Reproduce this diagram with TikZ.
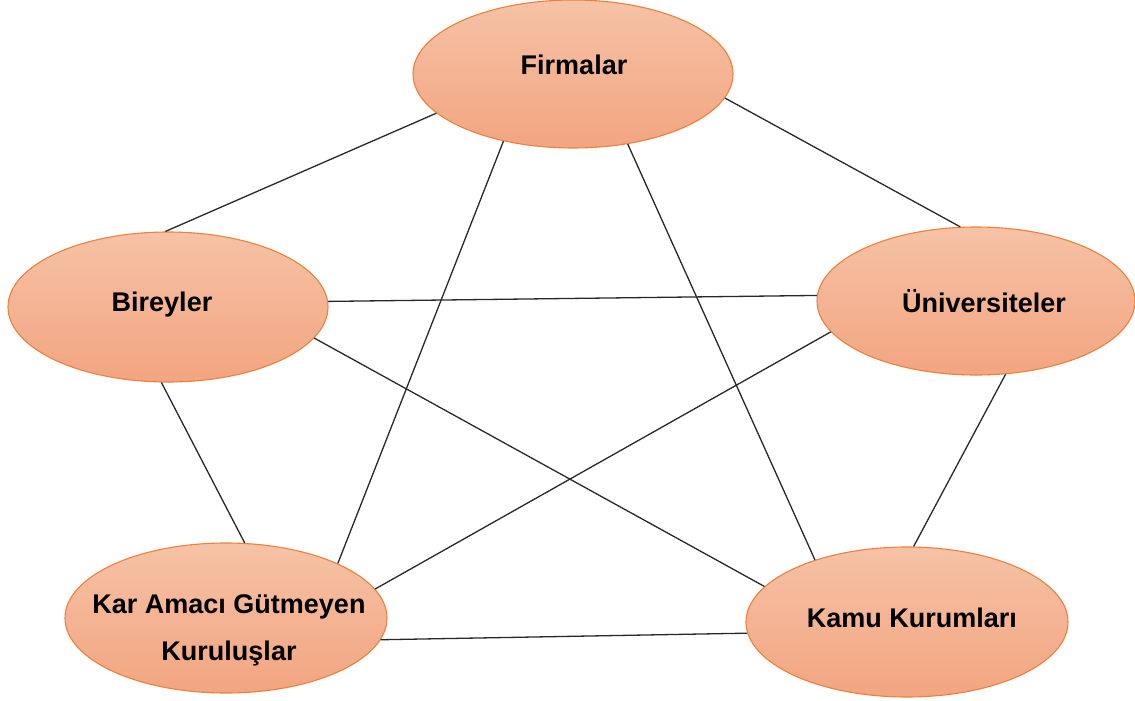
\documentclass[tikz,border=0pt]{standalone}
\usepackage{fontspec}
\setmainfont{Liberation Sans}
\usetikzlibrary{shapes.geometric}
\definecolor{ellTop}{RGB}{246,194,166}
\definecolor{ellBot}{RGB}{242,165,128}
\definecolor{ellLine}{RGB}{236,128,60}
\definecolor{linkGray}{RGB}{40,40,40}
\tikzset{
  actor/.style={ellipse, draw=ellLine, line width=1.1pt,
    top color=ellTop, bottom color=ellBot,
    minimum width=320pt, minimum height=150pt, inner sep=0pt,
    font=\bfseries\fontsize{27}{47}\selectfont},
  link/.style={draw=linkGray, line width=1.3pt}
}
% #1 horizontal shift, #2 baseline height above the centre, #3 text
\newcommand{\lbl}[3]{\makebox[0pt][c]{\raisebox{#2}[0pt][0pt]{\kern#1\kern#1 #3}}}
\begin{document}
\begin{tikzpicture}[x=1pt,y=-1pt]
\useasboundingbox (0,0) rectangle (1135,701);
% the five actors
\node[actor, minimum height=148pt] (firm) at (573,74) {\lbl{1pt}{-1pt}{Firmalar}};
\node[actor] (bir) at (168,307) {\lbl{-6pt}{-4pt}{Bireyler}};
\node[actor, minimum width=318pt, minimum height=148pt] (uni) at (976,301) {\lbl{8pt}{-11pt}{Üniversiteler}};
\node[actor, minimum width=322pt] (kar) at (226,618)
  {\lbl{3pt}{5pt}{\begin{tabular}[t]{@{}c@{}}Kar Amacı Gütmeyen\\Kuruluşlar\end{tabular}}};
\node[actor, minimum width=322pt] (kamu) at (907,622) {\lbl{5pt}{-5pt}{Kamu Kurumları}};
% links between every pair
\draw[link] (firm.196.5) -- (bir.92);
\draw[link] (firm.351.4) -- (uni.102.2);
\draw[link] (firm.224.1) -- (kar.26.3);
\draw[link] (firm.308.8) -- (kamu.146.2);
\draw[link] (bir.2.6) -- (uni.178.9);
\draw[link] (bir.348.3) -- (kamu.166.5);
\draw[link] (bir.265.3) -- (kar.76);
\draw[link] (uni.192.9) -- (kar.11.5);
\draw[link] (uni.292.2) -- (kamu.85.4);
\draw[link] (kar.352.6) -- (kamu.184.9);
\end{tikzpicture}
\end{document}
